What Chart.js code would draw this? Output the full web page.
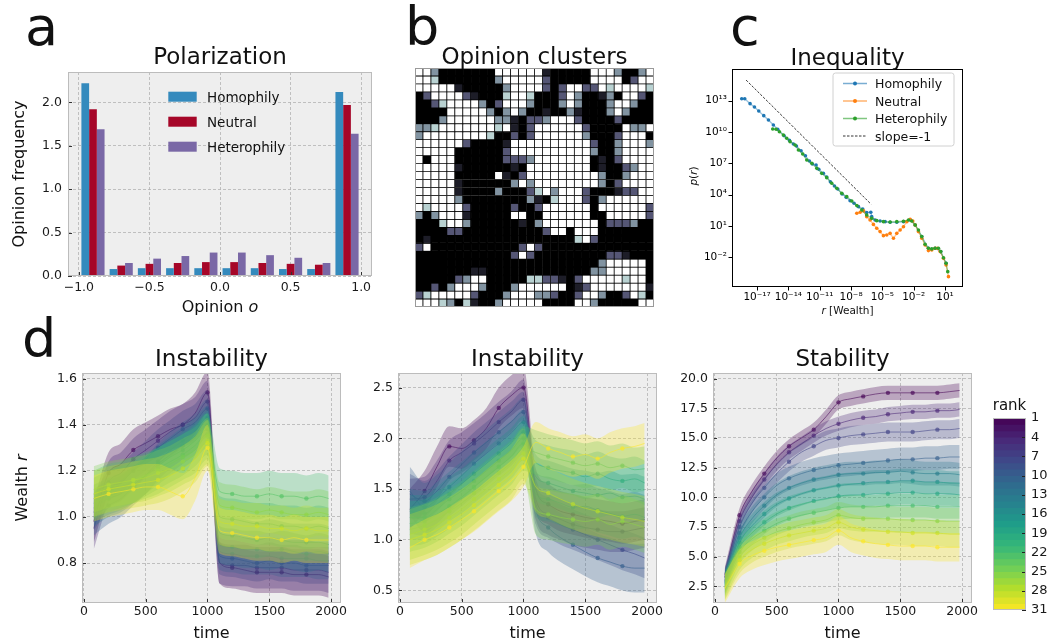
<!DOCTYPE html>
<html>
<head>
<meta charset="utf-8">
<script src="https://cdn.jsdelivr.net/npm/chart.js@4.4.0/dist/chart.umd.min.js"></script>
<style>
body { margin: 0; background: #fff; width: 1050px; height: 642px; overflow: hidden; position: relative; font-family: 'DejaVu Sans', sans-serif; }
canvas { position: absolute; }
svg { position: absolute; left: 0; top: 0; pointer-events: none; }
</style>
</head>
<body>
<canvas id="polarChart" style="left:0;top:62px" width="380" height="262"></canvas>
<canvas id="clusterChart" style="left:415px;top:68px" width="239" height="239"></canvas>
<canvas id="inequalityChart" style="left:690px;top:60px" width="280" height="265"></canvas>
<canvas id="instab1Chart" style="left:0;top:365px" width="350" height="275"></canvas>
<canvas id="instab2Chart" style="left:360px;top:365px" width="310" height="275"></canvas>
<canvas id="stabChart" style="left:660px;top:365px" width="320" height="275"></canvas>
<canvas id="rankBar" style="left:985px;top:410px" width="65" height="210"></canvas>

<svg width="1050" height="642" font-family="DejaVu Sans" fill="#111">
  <text x="25" y="45" font-size="54">a</text>
  <text x="405" y="45" font-size="54">b</text>
  <text x="730" y="45" font-size="54">c</text>
  <text x="22" y="357" font-size="54">d</text>

  <g font-size="23" text-anchor="middle">
    <text x="220" y="64">Polarization</text>
    <text x="534.5" y="64">Opinion clusters</text>
    <text x="847.5" y="65">Inequality</text>
    <text x="211.5" y="366">Instability</text>
    <text x="527.5" y="366">Instability</text>
    <text x="842.5" y="366">Stability</text>
  </g>

  <g font-size="16" text-anchor="middle">
    <text transform="translate(23.5,174) rotate(-90)">Opinion frequency</text>
    <text x="220" y="312">Opinion <tspan font-style="italic">o</tspan></text>
    <text transform="translate(26.5,488) rotate(-90)">Wealth <tspan font-style="italic">r</tspan></text>
    <text x="211.5" y="638">time</text>
    <text x="527.5" y="638">time</text>
    <text x="842.5" y="638">time</text>
  </g>
  <g font-size="10.5" text-anchor="middle">
    <text x="847.5" y="314"><tspan font-style="italic">r</tspan> [Wealth]</text>
    <text transform="translate(697,176) rotate(-90)"><tspan font-style="italic">p</tspan>(<tspan font-style="italic">r</tspan>)</text>
  </g>
  <text x="1009.5" y="410" font-size="15" text-anchor="middle">rank</text>

  <!-- legend a -->
  <rect x="168.3" y="91.7" width="28.4" height="10" fill="#348ABD"/>
  <rect x="168.3" y="116.7" width="28.4" height="10" fill="#A60628"/>
  <rect x="168.3" y="141.7" width="28.4" height="10" fill="#7A68A6"/>
  <g font-size="13.5">
    <text x="207" y="101.5">Homophily</text>
    <text x="207" y="126.5">Neutral</text>
    <text x="207" y="151.5">Heterophily</text>
  </g>

  <!-- legend c -->
  <rect x="833" y="73" width="121" height="73" rx="2.5" fill="#fff" fill-opacity="0.85" stroke="#d0d0d0"/>
  <g stroke-width="1.5" stroke-opacity="0.6">
    <line x1="843" y1="83.5" x2="867" y2="83.5" stroke="#1f77b4"/>
    <line x1="843" y1="101" x2="867" y2="101" stroke="#ff7f0e"/>
    <line x1="843" y1="118.5" x2="867" y2="118.5" stroke="#2ca02c"/>
  </g>
  <circle cx="855" cy="83.5" r="2" fill="#1f77b4"/>
  <circle cx="855" cy="101" r="2" fill="#ff7f0e"/>
  <circle cx="855" cy="118.5" r="2" fill="#2ca02c"/>
  <line x1="843" y1="136" x2="867" y2="136" stroke="#000" stroke-width="0.8" stroke-dasharray="2.5,1.5"/>
  <g font-size="12.5">
    <text x="875" y="88">Homophily</text>
    <text x="875" y="105.5">Neutral</text>
    <text x="875" y="123">Heterophily</text>
    <text x="875" y="140.5">slope=-1</text>
  </g>
</svg>

<script>
// ---- a: opinion histogram
const binCenters = [-0.9, -0.7, -0.5, -0.3, -0.1, 0.1, 0.3, 0.5, 0.7, 0.9];
const homophily = [2.22, 0.08, 0.09, 0.09, 0.09, 0.09, 0.09, 0.08, 0.08, 2.12];
const neutral = [1.92, 0.12, 0.14, 0.15, 0.16, 0.16, 0.15, 0.14, 0.13, 1.97];
const heterophily = [1.69, 0.15, 0.20, 0.23, 0.27, 0.27, 0.24, 0.21, 0.15, 1.64];
const opinionTicks = [-1, -0.5, 0, 0.5, 1];
const freqTicks = [0, 0.5, 1, 1.5, 2];

// ---- b: opinion grid (# black, a-d greys, . white)
const opinionGrid = [
  "..c#######......a#####...c##c.",
  "..d#######c.....b#####....#b..",
  ".....a#####c....b#b..bb.d....d",
  "#b....ba###d..d###b.c##ac#..b#",
  "##bd....c#b...c###c.c###c..c##",
  "####.....c#c.c##a##ca###c.c###",
  "###c......cca#bbc...b####b####",
  "ccd.......d.a#b......b####.cc.",
  "c........d##b#b......c###b...#",
  "......b####a..........b##c...c",
  ".....######b..........c##c....",
  ".#...######bbbc.......#a#b....",
  ".....a######a#........#a##bc..",
  ".....#####.a#b.........c##c...",
  ".....a######c.c........c#b....",
  ".....a####c###bd.c...b###abb..",
  ".....c########ca#d...b#c......",
  ".d....b#####b##b......#......b",
  "c#c...a#####..##......##.....b",
  "###d..c######a#c.......#bbbc##",
  "####bb##########b..#...#######",
  "#a##################d.b#######",
  "b.###########b.b##############",
  "############b.b#########bba###",
  "#######################c.....#",
  "#######aa#############cc.....#",
  "#####bc..#####ddbba#b.....d..#",
  "##b#c...c###c......#ab.......a",
  "bd.....b###c...ccb##b..c##b.d#",
  "...dc#da##c.....####..c#####.."
];
const opinionLevel = { '#': 0, a: 0.13, b: 0.38, c: 0.58, d: 0.8, '.': 1 };

// ---- c: wealth distribution (log10 values)
const homLogR = [-18.47, -18.18, -17.67, -17.25, -16.84, -16.36, -15.91, -15.44, -15.02, -14.41, -13.90, -13.52, -13.23, -12.79, -12.37, -11.99, -11.70, -11.35, -11.09, -10.65, -10.33, -9.98, -9.59, -9.27, -8.86, -8.47, -8.09, -7.71, -7.29, -6.88, -6.50, -6.11, -6.02, -5.70, -5.22, -4.74, -4.26, -3.62, -2.98, -2.34, -1.86, -1.23, -0.59, 0.05, 0.59, 1.10];
const homLogP = [13.19, 13.19, 12.72, 12.40, 12.01, 11.57, 11.15, 10.67, 10.26, 9.65, 9.20, 8.85, 8.66, 8.21, 7.73, 7.22, 6.94, 6.84, 6.43, 6.04, 5.69, 5.24, 4.83, 4.54, 4.06, 3.74, 3.42, 3.17, 2.85, 2.63, 2.28, 2.31, 1.89, 1.57, 1.48, 1.41, 1.35, 1.35, 1.41, 1.57, 1.09, -0.02, -1.14, -1.14, -1.46, -2.58];
const neuLogR = [-7.45, -7.13, -6.81, -6.50, -6.18, -5.86, -5.54, -5.22, -4.90, -4.58, -4.26, -3.94, -3.62, -3.30, -2.98, -2.66, -2.34, -2.09, -1.86, -1.55, -1.23, -0.91, -0.59, -0.27, 0.05, 0.27, 0.53, 0.85, 1.10, 1.33];
const neuLogP = [2.21, 2.31, 2.44, 1.89, 1.57, 1.15, 0.78, 0.46, 0.07, 0.14, 0.29, -0.18, 0.29, 0.61, 0.93, 1.41, 1.64, 1.48, 1.09, 0.46, -0.18, -0.82, -1.36, -1.30, -1.14, -1.14, -1.46, -2.10, -2.74, -3.86];
const hetLogR = [-15.50, -15.18, -14.86, -14.48, -14.16, -13.84, -13.36, -13.04, -12.63, -12.24, -11.76, -11.28, -10.81, -10.33, -9.85, -9.37, -8.89, -8.41, -7.93, -7.45, -6.97, -6.50, -6.02, -5.54, -4.90, -4.26, -3.62, -2.98, -2.50, -2.19, -1.86, -1.55, -1.23, -0.91, -0.59, -0.27, 0.05, 0.37, 0.59, 0.85, 1.10, 1.26];
const hetLogP = [10.29, 10.26, 10.03, 9.71, 9.40, 9.08, 8.76, 8.28, 7.90, 7.32, 7.00, 6.52, 6.04, 5.63, 5.09, 4.61, 4.13, 3.81, 3.39, 2.95, 2.53, 2.05, 1.73, 1.51, 1.41, 1.38, 1.41, 1.45, 1.57, 1.48, 1.09, 0.61, -0.02, -0.76, -1.14, -1.20, -1.14, -1.14, -1.46, -2.04, -2.58, -3.38];
const slopeLogR = [-18.05, -6.08];
const slopeLogP = [14.98, 3.08];
const wealthTicksC = [1e-17, 1e-14, 1e-11, 1e-8, 1e-5, 1e-2, 1e1];
const probTicksC = [1e-2, 1e1, 1e4, 1e7, 1e10, 1e13];

// ---- d: wealth over time per rank
const time = [80, 200, 300, 400, 500, 600, 700, 800, 900, 1000, 1100, 1200, 1300, 1400, 1500, 1600, 1700, 1800, 1900, 1980];
const ranks = [1, 4, 7, 10, 13, 16, 19, 22, 25, 28, 31];
const instabA = [
  [0.98, 1.19, 1.23, 1.29, 1.32, 1.35, 1.38, 1.40, 1.45, 1.54, 0.80, 0.78, 0.77, 0.76, 0.76, 0.76, 0.75, 0.75, 0.75, 0.74],
  [0.95, 1.15, 1.19, 1.25, 1.29, 1.33, 1.37, 1.40, 1.43, 1.50, 0.80, 0.79, 0.79, 0.78, 0.78, 0.78, 0.77, 0.77, 0.77, 0.76],
  [1.02, 1.12, 1.15, 1.20, 1.25, 1.30, 1.34, 1.38, 1.41, 1.47, 0.83, 0.82, 0.81, 0.80, 0.81, 0.80, 0.80, 0.79, 0.79, 0.79],
  [1.00, 1.05, 1.08, 1.13, 1.18, 1.24, 1.29, 1.33, 1.37, 1.43, 0.85, 0.84, 0.83, 0.83, 0.83, 0.82, 0.82, 0.82, 0.81, 0.81],
  [1.04, 1.08, 1.10, 1.14, 1.18, 1.23, 1.27, 1.31, 1.35, 1.40, 0.88, 0.87, 0.86, 0.86, 0.85, 0.86, 0.85, 0.84, 0.85, 0.84],
  [1.06, 1.09, 1.11, 1.14, 1.18, 1.22, 1.26, 1.29, 1.33, 1.38, 0.93, 0.92, 0.91, 0.90, 0.91, 0.90, 0.89, 0.89, 0.89, 0.88],
  [1.08, 1.11, 1.13, 1.15, 1.18, 1.21, 1.24, 1.27, 1.31, 1.36, 1.00, 0.99, 0.98, 0.97, 0.97, 0.96, 0.96, 0.95, 0.96, 0.95],
  [1.10, 1.13, 1.14, 1.16, 1.18, 1.20, 1.23, 1.26, 1.29, 1.35, 1.11, 1.10, 1.09, 1.09, 1.10, 1.09, 1.09, 1.08, 1.09, 1.08],
  [1.12, 1.14, 1.15, 1.16, 1.17, 1.19, 1.21, 1.24, 1.27, 1.33, 1.05, 1.04, 1.03, 1.02, 1.03, 1.02, 1.01, 1.01, 1.02, 1.01],
  [1.10, 1.12, 1.13, 1.14, 1.15, 1.16, 1.18, 1.21, 1.25, 1.32, 0.98, 0.97, 0.96, 0.96, 0.95, 0.95, 0.94, 0.95, 0.94, 0.94],
  [1.08, 1.10, 1.11, 1.12, 1.13, 1.13, 1.11, 1.09, 1.17, 1.30, 0.94, 0.93, 0.92, 0.91, 0.91, 0.90, 0.91, 0.90, 0.90, 0.90]
];
const instabASpread = [0.09, 0.09, 0.08, 0.08, 0.08, 0.08, 0.09, 0.10, 0.10, 0.10, 0.10];
const instabB = [
  [1.30, 1.48, 1.72, 1.92, 1.90, 1.98, 2.10, 2.30, 2.42, 2.50, 1.50, 1.35, 1.28, 1.25, 1.22, 1.20, 1.18, 1.16, 1.18, 1.20],
  [1.40, 1.42, 1.58, 1.78, 1.86, 1.95, 2.05, 2.16, 2.26, 2.38, 1.40, 1.25, 1.20, 1.15, 1.12, 1.10, 1.08, 1.08, 1.10, 1.12],
  [1.45, 1.38, 1.48, 1.62, 1.74, 1.86, 1.96, 2.06, 2.16, 2.26, 1.35, 1.22, 1.15, 1.10, 1.05, 1.00, 0.95, 0.90, 0.86, 0.82],
  [1.48, 1.32, 1.40, 1.52, 1.63, 1.75, 1.85, 1.95, 2.05, 2.16, 1.30, 1.12, 1.02, 0.95, 0.88, 0.82, 0.78, 0.74, 0.72, 0.72],
  [1.28, 1.26, 1.35, 1.45, 1.55, 1.65, 1.75, 1.85, 1.95, 2.06, 1.45, 1.40, 1.36, 1.32, 1.33, 1.29, 1.26, 1.23, 1.25, 1.22],
  [1.22, 1.22, 1.30, 1.40, 1.48, 1.58, 1.68, 1.78, 1.88, 2.00, 1.62, 1.56, 1.52, 1.48, 1.46, 1.44, 1.46, 1.42, 1.43, 1.40],
  [1.16, 1.18, 1.25, 1.33, 1.42, 1.52, 1.62, 1.72, 1.82, 1.95, 1.76, 1.71, 1.68, 1.66, 1.62, 1.65, 1.60, 1.58, 1.60, 1.56],
  [1.10, 1.14, 1.20, 1.28, 1.36, 1.46, 1.56, 1.66, 1.76, 1.90, 1.86, 1.82, 1.79, 1.76, 1.73, 1.75, 1.71, 1.73, 1.69, 1.70],
  [1.05, 1.10, 1.15, 1.22, 1.30, 1.40, 1.50, 1.60, 1.70, 1.85, 1.30, 1.25, 1.22, 1.20, 1.18, 1.20, 1.15, 1.18, 1.15, 1.12],
  [1.00, 1.05, 1.10, 1.17, 1.25, 1.34, 1.44, 1.54, 1.64, 1.80, 1.52, 1.46, 1.40, 1.35, 1.31, 1.28, 1.25, 1.22, 1.20, 1.18],
  [0.92, 1.00, 1.05, 1.12, 1.20, 1.28, 1.38, 1.48, 1.58, 1.72, 1.96, 1.90, 1.86, 1.82, 1.84, 1.80, 1.86, 1.90, 1.92, 1.95]
];
const instabBSpread = [0.2, 0.2, 0.2, 0.24, 0.22, 0.22, 0.22, 0.22, 0.25, 0.25, 0.2];
const stab = [
  [3.5, 8.5, 10.5, 12.0, 13.3, 14.3, 15.0, 15.7, 16.8, 18.0, 18.3, 18.5, 18.7, 18.8, 18.8, 18.8, 18.8, 18.8, 18.9, 19.0],
  [3.3, 8.0, 10.0, 11.5, 12.8, 13.8, 14.5, 15.2, 15.8, 16.2, 16.5, 16.7, 16.8, 17.0, 17.1, 17.2, 17.2, 17.3, 17.3, 17.4],
  [3.2, 7.5, 9.5, 10.8, 12.0, 13.0, 13.8, 14.3, 14.8, 15.0, 15.2, 15.3, 15.4, 15.5, 15.5, 15.5, 15.6, 15.7, 15.7, 15.8],
  [3.0, 7.0, 8.8, 10.0, 11.0, 11.6, 12.0, 12.3, 12.5, 12.7, 12.8, 12.9, 13.0, 13.1, 13.2, 13.2, 13.3, 13.3, 13.4, 13.4],
  [2.9, 6.6, 8.2, 9.3, 10.2, 10.8, 11.2, 11.5, 11.7, 11.9, 12.0, 12.0, 12.1, 12.1, 12.2, 12.1, 12.0, 12.0, 12.0, 11.9],
  [2.8, 6.2, 7.6, 8.6, 9.4, 9.9, 10.3, 10.6, 10.8, 11.0, 11.1, 11.2, 11.3, 11.3, 11.4, 11.4, 11.3, 11.3, 11.2, 11.2],
  [2.7, 5.8, 7.0, 7.9, 8.6, 9.1, 9.4, 9.7, 9.9, 10.1, 10.2, 10.2, 10.3, 10.3, 10.4, 10.4, 10.3, 10.3, 10.3, 10.2],
  [2.6, 5.4, 6.5, 7.2, 7.8, 8.2, 8.5, 8.7, 8.9, 9.1, 9.2, 9.2, 9.2, 9.3, 9.3, 9.3, 9.3, 9.2, 9.2, 9.2],
  [2.5, 5.0, 6.0, 6.6, 7.1, 7.4, 7.7, 7.9, 8.1, 8.5, 8.3, 8.2, 8.2, 8.2, 8.1, 8.1, 8.1, 8.0, 8.0, 8.0],
  [2.4, 4.7, 5.6, 6.1, 6.5, 6.8, 7.0, 7.2, 7.4, 7.9, 7.5, 7.3, 7.2, 7.1, 7.1, 7.0, 7.0, 7.0, 6.9, 6.9],
  [2.3, 4.4, 5.1, 5.5, 5.8, 6.0, 6.2, 6.4, 6.6, 7.2, 6.6, 6.3, 6.1, 6.0, 5.9, 5.9, 5.9, 5.8, 5.8, 5.8]
];
const stabSpread = [0.6, 0.6, 0.8, 1.0, 1.0, 1.0, 1.0, 1.0, 1.1, 1.1, 1.2];
const timeTicks = [0, 500, 1000, 1500, 2000];
const instabATicks = [0.8, 1.0, 1.2, 1.4, 1.6];
const instabBTicks = [0.5, 1.0, 1.5, 2.0, 2.5];
const stabTicks = [2.5, 5, 7.5, 10, 12.5, 15, 17.5, 20];
const rankTicks = [1, 4, 7, 10, 13, 16, 19, 22, 25, 28, 31];

// ---- colours
const viridisStops = ['#440154', '#482878', '#3e4989', '#31688e', '#26828e', '#1f9e89', '#35b779', '#6ece58', '#b5de2b', '#fde725'];
function hexRgb(h) { return [1, 3, 5].map(i => parseInt(h.substr(i, 2), 16)); }
function viridis(t, a) {
  t = Math.min(1, Math.max(0, t)) * (viridisStops.length - 1);
  const i = Math.min(Math.floor(t), viridisStops.length - 2), f = t - i;
  const c0 = hexRgb(viridisStops[i]), c1 = hexRgb(viridisStops[i + 1]);
  const c = c0.map((v, k) => Math.round(v + (c1[k] - v) * f));
  return 'rgba(' + c.join(',') + ',' + (a === undefined ? 1 : a) + ')';
}
// matplotlib "bone" segments
function seg(pts, x) {
  for (let i = 1; i < pts.length; i++) {
    if (x <= pts[i][0]) { const p = pts[i - 1], q = pts[i]; return p[1] + (q[1] - p[1]) * (x - p[0]) / (q[0] - p[0]); }
  }
  return 1;
}
function bone(x) {
  const r = seg([[0, 0], [0.746, 0.652], [1, 1]], x);
  const g = seg([[0, 0], [0.365, 0.319], [0.746, 0.777], [1, 1]], x);
  const b = seg([[0, 0], [0.365, 0.444], [1, 1]], x);
  return 'rgb(' + [r, g, b].map(v => Math.round(v * 255)).join(',') + ')';
}

// ---- helpers
Chart.defaults.font.family = "'DejaVu Sans', sans-serif";
Chart.defaults.font.size = 12.5;
Chart.defaults.color = '#1a1a1a';
Chart.defaults.animation = false;
Chart.defaults.responsive = false;
Chart.defaults.events = [];
Chart.defaults.plugins.legend.display = false;
Chart.defaults.plugins.tooltip.enabled = false;

const axesDeco = {
  id: 'axesDeco',
  beforeDraw(chart, args, o) {
    if (!o.bg) return;
    const a = chart.chartArea, ctx = chart.ctx;
    ctx.save();
    ctx.fillStyle = o.bg;
    ctx.fillRect(a.left, a.top, a.right - a.left, a.bottom - a.top);
    ctx.restore();
  },
  afterDraw(chart, args, o) {
    const a = chart.chartArea, ctx = chart.ctx;
    ctx.save();
    if (o.tickLen) {
      const d = o.tickDir || 1;
      ctx.strokeStyle = o.tickColor || '#000';
      ctx.lineWidth = 1;
      ctx.beginPath();
      const xs = chart.scales.x, ys = chart.scales.y;
      if (xs && xs.options.display !== false) {
        xs.ticks.forEach(t => {
          const p = Math.round(xs.getPixelForValue(t.value)) + 0.5;
          ctx.moveTo(p, a.bottom); ctx.lineTo(p, a.bottom - d * o.tickLen);
        });
      }
      if (ys && ys.options.display !== false) {
        const right = ys.position === 'right';
        const edge = right ? a.right : a.left, s = right ? -1 : 1;
        ys.ticks.forEach(t => {
          const p = Math.round(ys.getPixelForValue(t.value)) + 0.5;
          ctx.moveTo(edge, p); ctx.lineTo(edge + s * d * o.tickLen, p);
        });
      }
      ctx.stroke();
    }
    if (o.edge) {
      ctx.strokeStyle = o.edge;
      ctx.lineWidth = o.edgeWidth || 1;
      ctx.strokeRect(a.left + 0.5, a.top + 0.5, a.right - a.left - 1, a.bottom - a.top - 1);
    }
    ctx.restore();
  }
};
Chart.register(axesDeco);

function fixTicks(values) { return s => { s.ticks = values.map(v => ({ value: v })); }; }
function fixSize(prop, px) {
  return s => { s[prop] = px; s.paddingLeft = 0; s.paddingRight = 0; s.paddingTop = 0; s.paddingBottom = 0; };
}
function bmhAxis(min, max, ticks, fmt, prop, size, pad) {
  return {
    type: 'linear', min: min, max: max, offset: false,
    afterBuildTicks: fixTicks(ticks), afterFit: fixSize(prop, size),
    grid: { color: '#b2b2b2', lineWidth: 0.8, drawTicks: false, offset: false },
    border: { display: false, dash: [3, 2] },
    ticks: { callback: fmt, padding: pad, autoSkip: false, maxRotation: 0 }
  };
}
const bmhDeco = { bg: '#eeeeee', edge: '#bcbcbc', tickLen: 4, tickDir: 1, tickColor: '#333' };
const fmt1 = v => (v < 0 ? '\u2212' : '') + Math.abs(v).toFixed(1);

// ---- a
new Chart(document.getElementById('polarChart'), {
  type: 'bar',
  data: {
    datasets: [
      { data: binCenters.map((x, i) => ({ x: x, y: homophily[i] })), backgroundColor: '#348ABD' },
      { data: binCenters.map((x, i) => ({ x: x, y: neutral[i] })), backgroundColor: '#A60628' },
      { data: binCenters.map((x, i) => ({ x: x, y: heterophily[i] })), backgroundColor: '#7A68A6' }
    ].map(d => Object.assign(d, { barPercentage: 1, categoryPercentage: 0.82, borderWidth: 0 }))
  },
  options: {
    devicePixelRatio: 1,
    layout: { padding: { top: 10, right: 8, left: 0, bottom: 0 } },
    scales: {
      x: bmhAxis(-1.077, 1.077, opinionTicks, fmt1, 'height', 48, 4),
      y: bmhAxis(0, 2.35, freqTicks, fmt1, 'width', 68, 6)
    },
    plugins: { axesDeco: bmhDeco }
  }
});

// ---- b
const gridCols = opinionGrid[0].split('').map((_, i) => i);
new Chart(document.getElementById('clusterChart'), {
  type: 'bar',
  data: {
    labels: gridCols,
    datasets: opinionGrid.map((row, r) => ({
      data: gridCols.map(() => [r, r + 1]),
      backgroundColor: row.split('').map(ch => bone(opinionLevel[ch])),
      borderColor: '#000', borderWidth: 0.75, borderSkipped: false,
      grouped: false, barPercentage: 1, categoryPercentage: 1
    }))
  },
  options: {
    devicePixelRatio: 1,
    layout: { padding: 0 },
    scales: {
      x: { display: false },
      y: { display: false, min: 0, max: opinionGrid.length, reverse: true }
    },
    plugins: { axesDeco: { edge: '#9a9a9a' } }
  }
});

// ---- c
const sup = { '-': '\u207b', '0': '\u2070', '1': '\u00b9', '2': '\u00b2', '3': '\u00b3', '4': '\u2074', '5': '\u2075', '6': '\u2076', '7': '\u2077', '8': '\u2078', '9': '\u2079' };
const powFmt = v => '10' + String(Math.round(Math.log10(v))).split('').map(ch => sup[ch]).join('');
function wealthSeries(lr, lp, color) {
  return {
    data: lr.map((r, i) => ({ x: Math.pow(10, r), y: Math.pow(10, lp[i]) })),
    borderColor: color.replace('rgb', 'rgba').replace(')', ',0.45)'), borderWidth: 1.3,
    pointRadius: 1.8, pointBackgroundColor: color, pointBorderWidth: 0, fill: false
  };
}
new Chart(document.getElementById('inequalityChart'), {
  type: 'line',
  data: {
    datasets: [
      { data: slopeLogR.map((r, i) => ({ x: Math.pow(10, r), y: Math.pow(10, slopeLogP[i]) })), borderColor: '#000', borderWidth: 0.8, borderDash: [2.5, 1.5], pointRadius: 0, fill: false },
      wealthSeries(hetLogR, hetLogP, 'rgb(44,160,44)'),
      wealthSeries(neuLogR, neuLogP, 'rgb(255,127,14)'),
      wealthSeries(homLogR, homLogP, 'rgb(31,119,180)')
    ]
  },
  options: {
    devicePixelRatio: 1,
    layout: { padding: { top: 9, right: 7, left: 0, bottom: 0 } },
    scales: {
      x: {
        type: 'logarithmic', min: Math.pow(10, -19.4), max: Math.pow(10, 2.72),
        afterBuildTicks: fixTicks(wealthTicksC), afterFit: fixSize('height', 38),
        grid: { display: false, drawTicks: false }, border: { display: false },
        ticks: { callback: powFmt, padding: 4, autoSkip: false, maxRotation: 0, font: { size: 10.5 }, color: '#000' }
      },
      y: {
        type: 'logarithmic', min: Math.pow(10, -4.85), max: Math.pow(10, 16.04),
        afterBuildTicks: fixTicks(probTicksC), afterFit: fixSize('width', 42),
        grid: { display: false, drawTicks: false }, border: { display: false },
        ticks: { callback: powFmt, padding: 5, autoSkip: false, font: { size: 10.5 }, color: '#000' }
      }
    },
    plugins: { axesDeco: { edge: '#000', tickLen: 3.5, tickDir: -1, tickColor: '#000' } }
  }
});

// ---- d
function wealthChart(id, means, spreads, yMin, yMax, yTicks, yWidth, padRight) {
  const datasets = [];
  for (let k = ranks.length - 1; k >= 0; k--) {
    const t = (ranks[k] - 1) / 30, m = means[k], s = spreads[k];
    const base = { cubicInterpolationMode: 'monotone', pointRadius: 0, fill: false };
    datasets.push(Object.assign({}, base, { data: time.map((x, i) => ({ x: x, y: m[i] + s })), fill: '+1', borderWidth: 0, backgroundColor: viridis(t, 0.3) }));
    datasets.push(Object.assign({}, base, { data: time.map((x, i) => ({ x: x, y: m[i] - s })), borderWidth: 0 }));
    datasets.push(Object.assign({}, base, {
      data: time.map((x, i) => ({ x: x, y: m[i] })),
      borderWidth: 1, borderColor: viridis(t, 0.55),
      pointRadius: c => (time[c.dataIndex] >= 200 && time[c.dataIndex] % 200 === 0 ? 2.2 : 0),
      pointBackgroundColor: viridis(t, 0.65), pointBorderWidth: 0
    }));
  }
  return new Chart(document.getElementById(id), {
    type: 'line',
    data: { datasets: datasets },
    options: {
      devicePixelRatio: 1,
      layout: { padding: { top: 8, right: padRight, left: 0, bottom: 0 } },
      scales: {
        x: bmhAxis(-15, 2080, timeTicks, v => String(v), 'height', 37, 1),
        y: bmhAxis(yMin, yMax, yTicks, v => v.toFixed(1), 'width', yWidth, 5)
      },
      plugins: { axesDeco: bmhDeco }
    }
  });
}
wealthChart('instab1Chart', instabA, instabASpread, 0.627, 1.624, instabATicks, 82, 9);
wealthChart('instab2Chart', instabB, instabBSpread, 0.376, 2.644, instabBTicks, 38, 13);
wealthChart('stabChart', stab, stabSpread, 1.106, 20.47, stabTicks, 53, 8);

// ---- colourbar
const rankSteps = rankTicks[rankTicks.length - 1] - 1;
new Chart(document.getElementById('rankBar'), {
  type: 'bar',
  data: {
    labels: ['rank'],
    datasets: Array.from({ length: rankSteps }, (_, i) => ({
      data: [[i + 1, i + 2]],
      backgroundColor: viridis((i + 0.5) / rankSteps),
      grouped: false, barPercentage: 1, categoryPercentage: 1, borderWidth: 0
    }))
  },
  options: {
    devicePixelRatio: 1,
    layout: { padding: { top: 8, right: 0, left: 8, bottom: 10 } },
    scales: {
      x: { display: false },
      y: {
        type: 'linear', position: 'right', reverse: true, min: 1, max: 31,
        afterBuildTicks: fixTicks(rankTicks), afterFit: fixSize('width', 24),
        grid: { display: false, drawTicks: false }, border: { display: false },
        ticks: { padding: 5, autoSkip: false, font: { size: 13 } }
      }
    },
    plugins: { axesDeco: { edge: '#bcbcbc', tickLen: 4, tickDir: 1, tickColor: '#222' } }
  }
});
</script>
</body>
</html>
